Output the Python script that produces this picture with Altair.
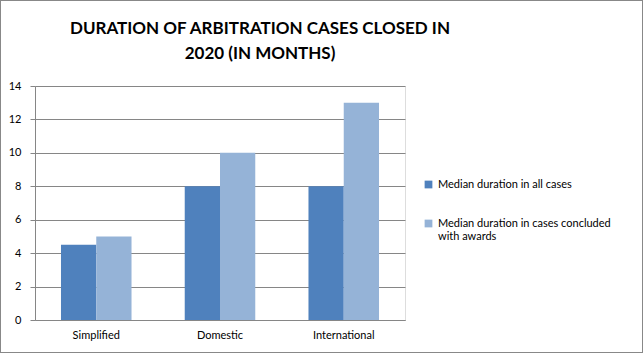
import altair as alt
import pandas as pd

categories = ["Simplified", "Domestic", "International"]
series = ["Median duration in all cases", "Median duration in cases concluded with awards"]
all_cases = [4.5, 8, 8]
awards_cases = [5, 10, 13]
colors = ["#4F81BD", "#95B3D7"]

rows = []
for c, a, b in zip(categories, all_cases, awards_cases):
    rows.append({"category": c, "series": series[0], "value": a})
    rows.append({"category": c, "series": series[1], "value": b})
df = pd.DataFrame(rows)

FONT = "Lato"

bars = alt.Chart(df).mark_bar().encode(
    x=alt.X("category:N", sort=categories, title=None,
            scale=alt.Scale(paddingInner=0.43, paddingOuter=0.21),
            axis=alt.Axis(labelAngle=0, ticks=False, domainColor="#868686",
                          labelFontSize=11, labelColor="#000", labelPadding=9,
                          labelFont=FONT)),
    xOffset=alt.XOffset("series:N", sort=series),
    y=alt.Y("value:Q", title=None,
            scale=alt.Scale(domain=[0, 14]),
            axis=alt.Axis(values=[0, 2, 4, 6, 8, 10, 12, 14], grid=True,
                          gridColor="#868686", domainColor="#868686",
                          tickColor="#868686", tickSize=5,
                          labelFontSize=11, labelColor="#000", labelPadding=9,
                          labelFont=FONT)),
    color=alt.Color("series:N", sort=series,
                    scale=alt.Scale(domain=series, range=colors),
                    legend=alt.Legend(title=None, orient="none",
                                      legendX=388, legendY=93,
                                      symbolType="square", symbolSize=60,
                                      symbolStrokeWidth=0,
                                      labelFontSize=11, labelFont=FONT,
                                      labelColor="#000", labelLimit=300,
                                      rowPadding=27,
                                      labelExpr="datum.label == 'Median duration in cases concluded with awards' ? ['Median duration in cases concluded', 'with awards'] : datum.label")),
)

border = alt.Chart(df).mark_rect(fill=None, stroke="#888888", strokeWidth=1, clip=False).encode(
    x=alt.value(-34.5), x2=alt.value(607.5), y=alt.value(-85.5), y2=alt.value(266.5)
)

chart = alt.layer(bars, border).properties(
    width=370, height=234,
    padding={"left": 35, "top": 86, "right": 238, "bottom": 33},
    autosize=alt.AutoSizeParams(type="none"),
    title=alt.TitleParams(["DURATION OF ARBITRATION CASES CLOSED IN", "2020 (IN MONTHS)"],
                          anchor="middle", frame="group", dx=40, offset=5, dy=68,
                          baseline="top",
                          fontSize=17, font=FONT, fontWeight="bold", color="#000",
                          lineHeight=25),
).configure_view(stroke=None).configure(background="white")

chart.save("out.html", embed_options={"renderer": "svg", "actions": False})
